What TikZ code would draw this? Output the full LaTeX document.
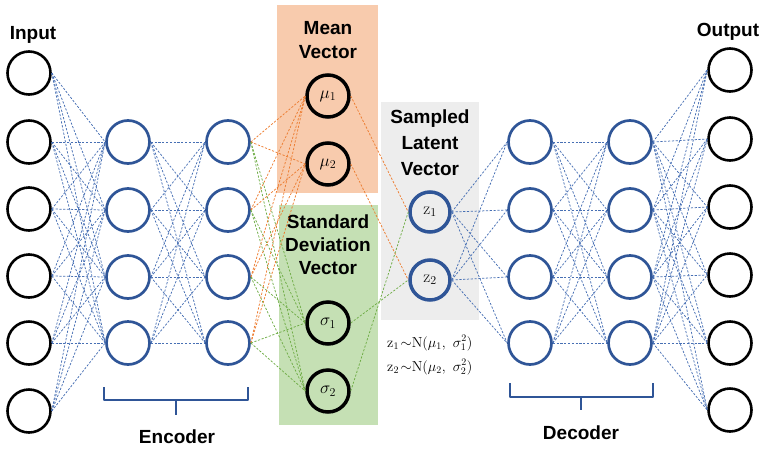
\documentclass[tikz,border=0pt]{standalone}
\usepackage{fontspec}
\newfontfamily\labfont{Liberation Sans}
\definecolor{nblue}{RGB}{47,85,151}
\definecolor{eblue}{RGB}{72,112,180}
\definecolor{eorange}{RGB}{237,125,49}
\definecolor{egreen}{RGB}{112,173,71}
\definecolor{forange}{RGB}{248,203,173}
\definecolor{fgreen}{RGB}{197,224,180}
\definecolor{fgray}{RGB}{237,237,237}
\tikzset{
  neuron/.style={circle,draw=black,line width=2.6pt,minimum size=43pt,inner sep=0pt},
  bneuron/.style={circle,draw=nblue,line width=2.7pt,minimum size=43pt,inner sep=0pt},
  latent/.style={circle,draw=black,line width=3.5pt,minimum size=42pt,inner sep=0pt,font=\fontsize{17}{19}\selectfont},
  zneuron/.style={circle,draw=nblue,line width=3.5pt,minimum size=40pt,inner sep=0pt,font=\fontsize{17}{19}\selectfont},
  lab/.style={font=\labfont\bfseries\fontsize{19}{21}\selectfont,align=center,inner sep=0pt},
  formula/.style={font=\fontsize{14.5}{16}\selectfont,anchor=west,inner sep=0pt},
  conn/.style={dash pattern=on 2.2pt off 1.6pt,line width=0.75pt},
  bconn/.style={conn,draw=eblue},
  oconn/.style={conn,draw=eorange},
  gconn/.style={conn,draw=egreen},
  brace/.style={draw=nblue,line width=2.8pt,line join=round}
}
\begin{document}
\begin{tikzpicture}[x=1pt,y=-1pt]
\useasboundingbox (0,0) rectangle (767,450);
% boxes
\fill[forange] (277,5) rectangle (378,193);
\fill[fgreen] (279,205) rectangle (378,425);
\fill[fgray] (381,102) rectangle (479,320);
% layers
\foreach \i/\y in {1/73,2/142,3/209,4/276,5/343,6/411}{
  \node[neuron] (in\i) at (29,\y) {};
}
\foreach \i/\y in {1/70,2/139,3/207,4/275,5/343,6/410}{
  \node[neuron] (out\i) at (730,\y) {};
}
\foreach \i/\y in {1/142,2/210,3/277,4/343}{
  \node[bneuron] (ea\i) at (128,\y) {};
  \node[bneuron] (eb\i) at (228,\y) {};
  \node[bneuron] (da\i) at (530,\y) {};
  \node[bneuron] (db\i) at (630,\y) {};
}
\node[latent] (mu1) at (328,96) {$\mu_1$};
\node[latent] (mu2) at (328,164) {$\mu_2$};
\node[latent] (sg1) at (328,323) {$\sigma_1$};
\node[latent] (sg2) at (328,391) {$\sigma_2$};
\node[zneuron] (z1) at (430,212) {z$_1$};
\node[zneuron] (z2) at (430,280) {z$_2$};
% labels
\node[lab] (tin) at (33,35) {Input};
\node[lab] (tout) at (728,32) {Output};
\node[lab] (tmean) at (328,40) {Mean\\[3pt]Vector};
\node[lab] (tsd) at (328,245) {Standard\\[2pt]Deviation\\[2pt]Vector};
\node[lab] (tsl) at (430,143) {Sampled\\[5pt]Latent\\[5pt]Vector};
\node[lab] (tenc) at (177,437) {Encoder};
\node[lab] (tdec) at (581,433) {Decoder};
\node[formula] (f1) at (387,343) {z$_1\!\sim$N$(\mu_1,\ \sigma_1^2)$};
\node[formula] (f2) at (387,367) {z$_2\!\sim$N$(\mu_2,\ \sigma_2^2)$};
% connectors
\foreach \i in {1,...,6}{\foreach \j in {1,...,4}{
  \draw[bconn] (in\i.east) -- (ea\j.west);
  \draw[bconn] (db\j.east) -- (out\i.west);
}}
\foreach \i in {1,...,4}{\foreach \j in {1,...,4}{
  \draw[bconn] (ea\i.east) -- (eb\j.west);
  \draw[bconn] (da\i.east) -- (db\j.west);
}}
\foreach \i in {1,...,4}{
  \draw[oconn] (eb\i.east) -- (mu1.west);
  \draw[oconn] (eb\i.east) -- (mu2.west);
  \draw[gconn] (eb\i.east) -- (sg1.west);
  \draw[gconn] (eb\i.east) -- (sg2.west);
  \draw[bconn] (z1.east) -- (da\i.west);
  \draw[bconn] (z2.east) -- (da\i.west);
}
\draw[oconn] (mu1.east) -- (z1.west);
\draw[oconn] (mu2.east) -- (z2.west);
\draw[gconn] (sg1.east) -- (z2.west);
\draw[gconn] (sg2.east) -- (z1.west);
% braces
\draw[brace] (104,387) -- (104,400) -- (248,400) -- (248,387);
\draw[brace] (176,400) -- (176,415);
\draw[brace] (510,383) -- (510,397) -- (653,397) -- (653,383);
\draw[brace] (581,397) -- (581,410);
\end{tikzpicture}
\end{document}
